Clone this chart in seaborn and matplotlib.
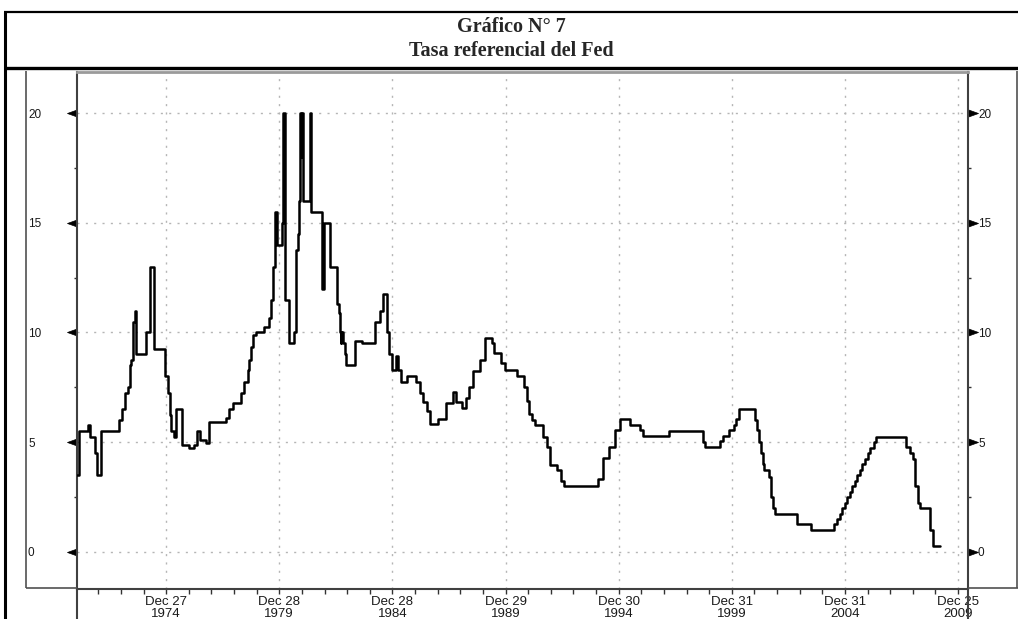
import numpy as np
import pandas as pd
import matplotlib
matplotlib.use('Agg')
import matplotlib.pyplot as plt
from matplotlib.lines import Line2D
from matplotlib.path import Path
from matplotlib.markers import MarkerStyle
from matplotlib.transforms import ScaledTranslation
import seaborn as sns

# Fed reference rate (%); each value holds until the next date
years = [1971.07, 1971.12, 1971.55, 1971.62, 1971.84, 1971.93, 1972.13, 1972.92,
         1973.05, 1973.16, 1973.31, 1973.38, 1973.45, 1973.53, 1973.60, 1973.66,
         1974.12, 1974.27, 1974.47, 1974.96, 1975.06, 1975.14, 1975.21, 1975.33,
         1975.43, 1975.71, 1976.02, 1976.24, 1976.36, 1976.49, 1976.77, 1976.90,
         1977.62, 1977.78, 1977.94, 1978.28, 1978.44, 1978.60, 1978.67, 1978.75,
         1978.82, 1978.95, 1979.30, 1979.53, 1979.62, 1979.72, 1979.80, 1979.87,
         1980.10, 1980.15, 1980.25, 1980.42, 1980.63, 1980.72, 1980.80, 1980.86,
         1980.90, 1980.95, 1980.99, 1981.04, 1981.34, 1981.41, 1981.86, 1981.95,
         1982.23, 1982.55, 1982.64, 1982.68, 1982.71, 1982.74, 1982.79, 1982.88,
         1982.96, 1983.34, 1983.64, 1984.22, 1984.44, 1984.57, 1984.74, 1984.86,
         1984.98, 1985.13, 1985.23, 1985.38, 1985.63, 1986.03, 1986.20, 1986.35,
         1986.52, 1986.64, 1987.00, 1987.35, 1987.68, 1987.82, 1988.05, 1988.26,
         1988.38, 1988.56, 1988.88, 1989.10, 1989.39, 1989.50, 1989.80, 1989.95,
         1990.50, 1990.79, 1990.92, 1991.03, 1991.14, 1991.28, 1991.63, 1991.84,
         1991.95, 1992.27, 1992.46, 1992.56, 1994.09, 1994.29, 1994.56, 1994.82,
         1995.07, 1995.47, 1995.93, 1996.07, 1997.21, 1998.70, 1998.80, 1999.45,
         1999.62, 1999.86, 2000.07, 2000.19, 2000.33, 2001.00, 2001.10, 2001.19,
         2001.27, 2001.35, 2001.42, 2001.64, 2001.71, 2001.79, 2001.88, 2002.86,
         2003.48, 2004.52, 2004.64, 2004.76, 2004.87, 2004.98, 2005.09, 2005.20,
         2005.32, 2005.42, 2005.53, 2005.65, 2005.76, 2005.87, 2006.00, 2006.12,
         2006.26, 2006.38, 2007.71, 2007.86, 2008.00, 2008.08, 2008.22, 2008.30,
         2008.75, 2008.88, 2009.20]
rate = [3.5, 5.5, 5.8, 5.25, 4.5, 3.5, 5.5, 6.0,
        6.5, 7.25, 7.5, 8.5, 8.75, 10.5, 11.0, 9.0,
        10.0, 13.0, 9.25, 8.0, 7.25, 6.25, 5.5, 5.25,
        6.5, 4.85, 4.75, 4.85, 5.5, 5.1, 4.95, 5.9,
        6.1, 6.5, 6.8, 7.25, 7.75, 8.3, 8.75, 9.35,
        9.9, 10.0, 10.25, 10.65, 11.5, 13.0, 15.5, 14.0,
        15.0, 20.0, 11.5, 9.5, 10.0, 13.75, 14.5, 16.0,
        20.0, 18.0, 20.0, 16.0, 20.0, 15.5, 12.0, 15.0,
        13.0, 11.3, 10.9, 10.0, 9.5, 10.0, 9.5, 9.0,
        8.5, 9.6, 9.5, 10.5, 11.0, 11.75, 10.0, 9.0,
        8.3, 8.95, 8.3, 7.75, 8.0, 7.75, 7.25, 6.85,
        6.4, 5.85, 6.05, 6.8, 7.3, 6.85, 6.55, 7.0,
        7.5, 8.25, 8.75, 9.75, 9.5, 9.05, 8.6, 8.3,
        8.0, 7.5, 6.9, 6.3, 6.0, 5.8, 5.25, 4.8,
        3.95, 3.75, 3.25, 3.0, 3.3, 4.3, 4.8, 5.55,
        6.05, 5.8, 5.55, 5.3, 5.5, 5.0, 4.8, 5.05,
        5.3, 5.55, 5.8, 6.05, 6.5, 6.0, 5.55, 5.0,
        4.5, 4.0, 3.75, 3.4, 2.5, 2.0, 1.75, 1.25,
        1.0, 1.25, 1.5, 1.75, 2.0, 2.25, 2.5, 2.75,
        3.0, 3.25, 3.5, 3.75, 4.0, 4.25, 4.5, 4.75,
        5.0, 5.25, 4.8, 4.5, 4.25, 3.0, 2.25, 2.0,
        1.0, 0.25, 0.25]

tick_dates = ['1974-12-27', '1979-12-28', '1984-12-28', '1989-12-29',
              '1994-12-30', '1999-12-31', '2004-12-31', '2009-12-25']
tick_labels = ['Dec 27\n1974', 'Dec 28\n1979', 'Dec 28\n1984', 'Dec 29\n1989',
               'Dec 30\n1994', 'Dec 31\n1999', 'Dec 31\n2004', 'Dec 25\n2009']
y_major = [0, 5, 10, 15, 20]
y_minor = [2.5, 7.5, 12.5, 17.5]
title_lines = ['Gráfico N° 7', 'Tasa referencial del Fed']


def dec_year(s):
    t = pd.Timestamp(s)
    return t.year + (t.dayofyear - 1) / 365.25


W, H = 1018, 619
sns.set_theme(style='white')
plt.rcParams['font.family'] = ['Liberation Sans', 'DejaVu Sans']

fig = plt.figure(figsize=(W / 100, H / 100), dpi=100)
fig.patch.set_facecolor('white')


def fx(px):
    return px / W


def fy(py):
    return 1 - py / H


ax = fig.add_axes([fx(77), fy(589), fx(968) - fx(77), fy(72) - fy(589)])
ax.set_facecolor('white')

df = pd.DataFrame({'year': years, 'rate': rate})
sns.lineplot(data=df, x='year', y='rate', ax=ax, color='black', lw=1.8,
             drawstyle='steps-post', estimator=None, zorder=3)

ax.set_xlim(1971.05, 2010.43)
ax.set_ylim(-1.69, 21.87)
ax.set_xlabel('')
ax.set_ylabel('')

major_x = [dec_year(d) for d in tick_dates]
minor_x = [y + 0.99 for y in range(1971, 2010) if y + 1 not in (1975, 1980, 1985, 1990, 1995, 2000, 2005, 2010)]
ax.set_xticks(major_x)
ax.set_xticklabels(tick_labels, linespacing=1.05)
ax.set_xticks(minor_x, minor=True)
ax.set_yticks(y_major)
ax.set_yticklabels([str(v) for v in y_major])
ax.set_yticks(y_minor, minor=True)

ax.tick_params(axis='x', which='both', bottom=True, top=False, direction='out',
               length=3.5, width=1, color='#333333', labelsize=9.5, pad=1.5,
               labelcolor='#1a1a1a')
ax.tick_params(axis='y', which='major', left=True, right=True, labelleft=True,
               labelright=True, direction='out', length=14.4, width=0.5,
               color='black', labelsize=8.5, pad=-7.2, labelcolor='#1a1a1a')
ax.tick_params(axis='y', which='minor', left=True, right=True, direction='out',
               length=2.5, width=1, color='#333333')

# caret-shaped major y ticks
caret_l = MarkerStyle(Path([(0, -0.36), (-1, 0), (0, 0.36), (0, -0.36)],
                           [Path.MOVETO, Path.LINETO, Path.LINETO, Path.CLOSEPOLY]))
caret_r = MarkerStyle(Path([(0, -0.36), (1, 0), (0, 0.36), (0, -0.36)],
                           [Path.MOVETO, Path.LINETO, Path.LINETO, Path.CLOSEPOLY]))
shift_left = ScaledTranslation(-0.39, 0, fig.dpi_scale_trans)
for t in ax.yaxis.get_major_ticks():
    t.tick1line.set_marker(caret_l)
    t.tick2line.set_marker(caret_r)
    for ln in (t.tick1line, t.tick2line):
        ln.set_markerfacecolor('black')
        ln.set_markeredgecolor('black')
    t.label1.set_ha('left')
    t.label1.set_transform(t.label1.get_transform() + shift_left)

ax.grid(True, which='major', color='#b5b5b5', linestyle=(0, (1.5, 4.5)), linewidth=1)

for side in ('left', 'right', 'bottom'):
    ax.spines[side].set_color('#404040')
    ax.spines[side].set_linewidth(1.5)
ax.spines['top'].set_color('#9a9a9a')
ax.spines['top'].set_linewidth(2.0)

# outer frame, title band and side boxes
def fline(x0, y0, x1, y1, color='black', lw=1.0):
    fig.add_artist(Line2D([fx(x0), fx(x1)], [fy(y0), fy(y1)], color=color, lw=lw,
                          transform=fig.transFigure, solid_capstyle='butt'))

fline(4, 12, W, 12, lw=1.6)
fline(5, 12, 5, H, lw=2.2)
fline(4, 68, W, 68, lw=2.4)
fline(26, 71, 26, 588, color='#505050', lw=1.2)
fline(26, 588, 77, 588, color='#505050', lw=1.2)
fline(1016.5, 71, 1016.5, 588, color='#505050', lw=1.2)
fline(968, 588, W, 588, color='#505050', lw=1.2)
fline(77, 589, 77, H, color='#404040', lw=1.5)
fline(968, 589, 968, H, color='#404040', lw=1.5)

fig.text(fx(511), fy(27), title_lines[0], ha='center', va='center',
         fontsize=14.5, fontweight='bold', family=['Liberation Serif', 'DejaVu Serif'])
fig.text(fx(511), fy(51), title_lines[1], ha='center', va='center',
         fontsize=14.5, fontweight='bold', family=['Liberation Serif', 'DejaVu Serif'])

fig.savefig('out.png', dpi=100, facecolor='white')
